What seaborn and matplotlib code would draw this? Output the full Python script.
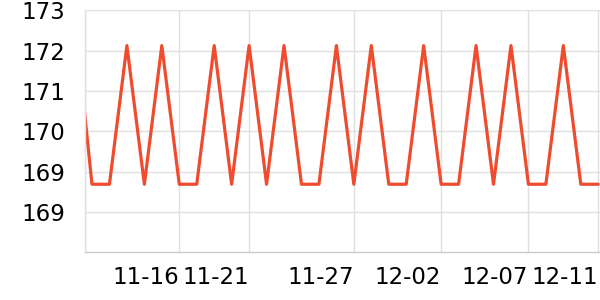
import matplotlib
matplotlib.use("Agg")
import matplotlib.pyplot as plt
import seaborn as sns
import pandas as pd

# ---- data ----
dates = ["11-10", "11-11", "11-12", "11-13", "11-14", "11-15", "11-16", "11-17",
         "11-18", "11-20", "11-21", "11-22", "11-23", "11-24", "11-25", "11-26",
         "11-27", "11-28", "11-29", "11-30", "12-01", "12-02", "12-03", "12-04",
         "12-05", "12-06", "12-07", "12-08", "12-09", "12-10", "12-11"]
values = [172.5, 169.15, 169.15, 171.9, 169.15, 171.9, 169.15, 169.15, 171.9, 169.15,
          171.9, 169.15, 171.9, 169.15, 169.15, 171.9, 169.15, 171.9, 169.15, 169.15,
          171.9, 169.15, 169.15, 171.9, 169.15, 171.9, 169.15, 169.15, 171.9, 169.15,
          169.15]
x_tick_labels = ["11-16", "11-21", "11-27", "12-02", "12-07", "12-11"]
y_ticks = [172.6, 171.8, 171.0, 170.2, 169.4, 168.6]
y_tick_labels = ["173", "172", "171", "170", "169", "169"]

df = pd.DataFrame({"date": dates, "value": values})
df["pos"] = range(len(df))

sns.set_style("white")
plt.rcParams["font.family"] = ["DejaVu Sans"]

fig = plt.figure(figsize=(6, 3), dpi=100)
ax = fig.add_axes([85 / 600, 1 - 252.3 / 300, 515 / 600, (252.3 - 10.3) / 300])

sns.lineplot(data=df, x="pos", y="value", ax=ax, color="#EF4B2E",
             linewidth=2.3, clip_on=True)

ax.set_xlim(0.6, 30.1)
ax.set_ylim(167.8, 172.6)

tick_pos = [0.6] + [dates.index(lbl) for lbl in x_tick_labels]
ax.set_xticks(tick_pos)
ax.set_xticklabels([""] + x_tick_labels, ha="right", fontsize=16.5, color="black")
ax.set_yticks(y_ticks)
ax.set_yticklabels(y_tick_labels, fontsize=16.5, color="black")

ax.tick_params(axis="y", length=0, pad=14)
ax.tick_params(axis="x", length=3, color="#cccccc", pad=7)

ax.grid(True, color="#e0e0e0", linewidth=1)
for s in ["top", "right"]:
    ax.spines[s].set_visible(False)
ax.spines["left"].set_color("#e0e0e0")
ax.spines["bottom"].set_color("#cccccc")
ax.spines["left"].set_linewidth(1)
ax.spines["bottom"].set_linewidth(1)

ax.set_xlabel("")
ax.set_ylabel("")

fig.savefig("out.png", dpi=100)
